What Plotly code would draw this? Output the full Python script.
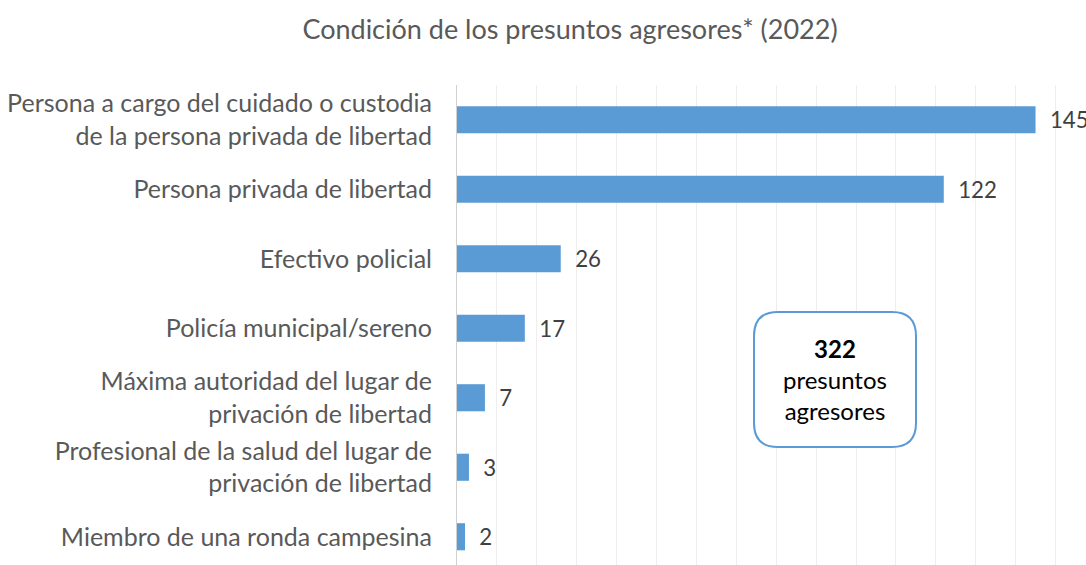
import plotly.graph_objects as go

# data
categories = [
    "Persona a cargo del cuidado o custodia<br>de la persona privada de libertad",
    "Persona privada de libertad",
    "Efectivo policial",
    "Policía municipal/sereno",
    "Máxima autoridad del lugar de<br>privación de libertad",
    "Profesional de la salud del lugar de<br>privación de libertad",
    "Miembro de una ronda campesina",
]
values = [145, 122, 26, 17, 7, 3, 2]
total_value = 322
total_text = ["presuntos", "agresores"]

W, H = 1086, 565
L, R, T, B = 457, 0, 85, 0
PW, PH = W - L - R, H - T - B


def px(x):
    return (x - L) / PW


def py(y):
    return (H - B - y) / PH


def rounded_box(x0, y0, x1, y1, r):
    """ rounded rectangle path in paper coords, given pixel coords """
    pts = [
        f"M{px(x0 + r)},{py(y0)}",
        f"L{px(x1 - r)},{py(y0)}",
        f"Q{px(x1)},{py(y0)} {px(x1)},{py(y0 + r)}",
        f"L{px(x1)},{py(y1 - r)}",
        f"Q{px(x1)},{py(y1)} {px(x1 - r)},{py(y1)}",
        f"L{px(x0 + r)},{py(y1)}",
        f"Q{px(x0)},{py(y1)} {px(x0)},{py(y1 - r)}",
        f"L{px(x0)},{py(y0 + r)}",
        f"Q{px(x0)},{py(y0)} {px(x0 + r)},{py(y0)}",
        "Z",
    ]
    return " ".join(pts)


FONT = "Lato"

fig = go.Figure(
    go.Bar(
        x=values,
        y=categories,
        orientation="h",
        marker=dict(color="#5B9BD5", line=dict(width=0)),
        text=values,
        texttemplate="\u00a0\u00a0%{x}",
        textposition="outside",
        cliponaxis=False,
        textfont=dict(family=FONT, size=23, color="#404040"),
        hoverinfo="skip",
    )
)

fig.update_layout(
    width=W,
    height=H,
    margin=dict(l=L, r=R, t=T, b=B, pad=0),
    paper_bgcolor="white",
    plot_bgcolor="white",
    bargap=0.61,
    showlegend=False,
    title=dict(
        text="Condición de los presuntos agresores* (2022)",
        x=570 / W,
        xanchor="center",
        y=1 - 30 / H,
        yanchor="middle",
        font=dict(family=FONT, size=27, color="#595959"),
    ),
    xaxis=dict(
        range=[0, (W - L) / 3.99],
        dtick=10,
        showgrid=True,
        gridcolor="#eeeeee",
        gridwidth=1,
        zeroline=False,
        showticklabels=False,
        showline=False,
        fixedrange=True,
    ),
    yaxis=dict(
        range=[-0.5 + PH / 69.5, -0.5],
        showgrid=False,
        zeroline=False,
        showline=True,
        linecolor="#d0d0d0",
        linewidth=1,
        ticks="",
        ticklabelstandoff=19,
        tickfont=dict(family=FONT, size=25, color="#595959"),
        fixedrange=True,
    ),
    shapes=[
        dict(
            type="path",
            xref="paper",
            yref="paper",
            path=rounded_box(754, 312, 916, 447, 24),
            line=dict(color="#5B9BD5", width=2),
            fillcolor="white",
            layer="above",
        )
    ],
    annotations=[
        dict(
            xref="paper",
            yref="paper",
            x=px(835),
            y=py(380),
            xanchor="center",
            yanchor="middle",
            showarrow=False,
            align="center",
            text=f"<b>{total_value}</b><br>" + "<br>".join(total_text),
            font=dict(family=FONT, size=24, color="black"),
        )
    ],
)

fig.write_html(
    "out.html",
    config={"displayModeBar": False},
    post_script="document.body.style.margin='0';",
)
